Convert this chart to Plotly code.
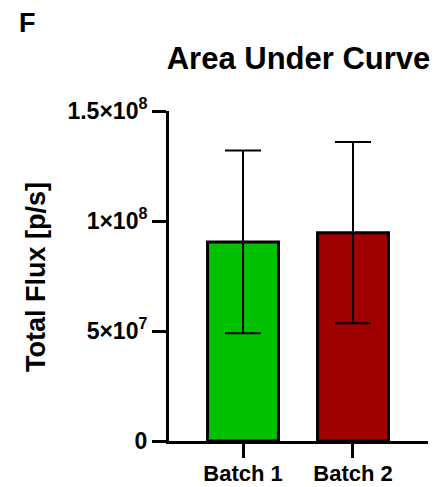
import plotly.graph_objects as go

categories = ["Batch 1", "Batch 2"]
means = [9.05e7, 9.47e7]
errors = [4.15e7, 4.12e7]
colors = ["rgb(0,192,0)", "rgb(160,0,0)"]
tick_vals = [0, 5e7, 1e8, 1.5e8]
tick_text = ["0", "5×10<sup>7</sup>", "1×10<sup>8</sup>", "1.5×10<sup>8</sup>"]

FONT = "Liberation Sans, Arial, sans-serif"
# page body has an 8px default margin; figure is offset by it
OFF = 8
W, H = 443 - OFF, 487 - OFF
L, R, T, B = 169 - OFF, 15, 111 - OFF, 46
PW, PH = W - L - R, H - T - B

def px_x(x):  # window pixel -> paper x
    return (x - OFF - L) / PW

def px_y(y):  # window pixel -> paper y
    return (H - B - (y - OFF)) / PH

fig = go.Figure()
fig.add_trace(go.Bar(
    x=[0, 1], y=means,
    width=0.645,
    marker=dict(color=colors, line=dict(color="black", width=3)),
    error_y=dict(type="data", array=errors, visible=True,
                 color="black", thickness=2, width=18),
))

fig.update_layout(
    width=W, height=H,
    margin=dict(l=L, r=R, t=T, b=B, autoexpand=False),
    plot_bgcolor="white", paper_bgcolor="white",
    showlegend=False,
    font=dict(family=FONT, color="black"),
    title=dict(text="<b>Area Under Curve</b>", font=dict(size=31, family=FONT, color="black"),
               x=0.5, xref="paper", xanchor="center",
               y=1 - (58 - OFF) / H, yref="container", yanchor="middle"),
    xaxis=dict(range=[-0.673, 1.682], tickvals=[0, 1],
               ticktext=["<b>" + c + "</b>" for c in categories],
               showline=True, linecolor="black", linewidth=3,
               ticks="outside", ticklen=14, tickwidth=3, tickcolor="black",
               ticklabelstandoff=-3,
               tickfont=dict(size=22, family=FONT, color="black"),
               showgrid=False, zeroline=False, automargin=False),
    yaxis=dict(range=[0, 1.5e8], tickvals=tick_vals,
               ticktext=["<b>" + t + "</b>" for t in tick_text],
               showline=True, linecolor="black", linewidth=3,
               ticks="outside", ticklen=14, tickwidth=3, tickcolor="black",
               tickfont=dict(size=23, family=FONT, color="black"),
               showgrid=False, zeroline=False, automargin=False),
    annotations=[
        dict(text="<b>F</b>", x=px_x(27), y=px_y(23),
             xref="paper", yref="paper", showarrow=False,
             xanchor="center", yanchor="middle",
             font=dict(size=27, family=FONT, color="black")),
        dict(text="<b>Total Flux [p/s]</b>", x=px_x(36), y=px_y(277),
             xref="paper", yref="paper", textangle=-90, showarrow=False,
             xanchor="center", yanchor="middle",
             font=dict(size=27, family=FONT, color="black")),
    ],
)

fig.write_html("out.html")
